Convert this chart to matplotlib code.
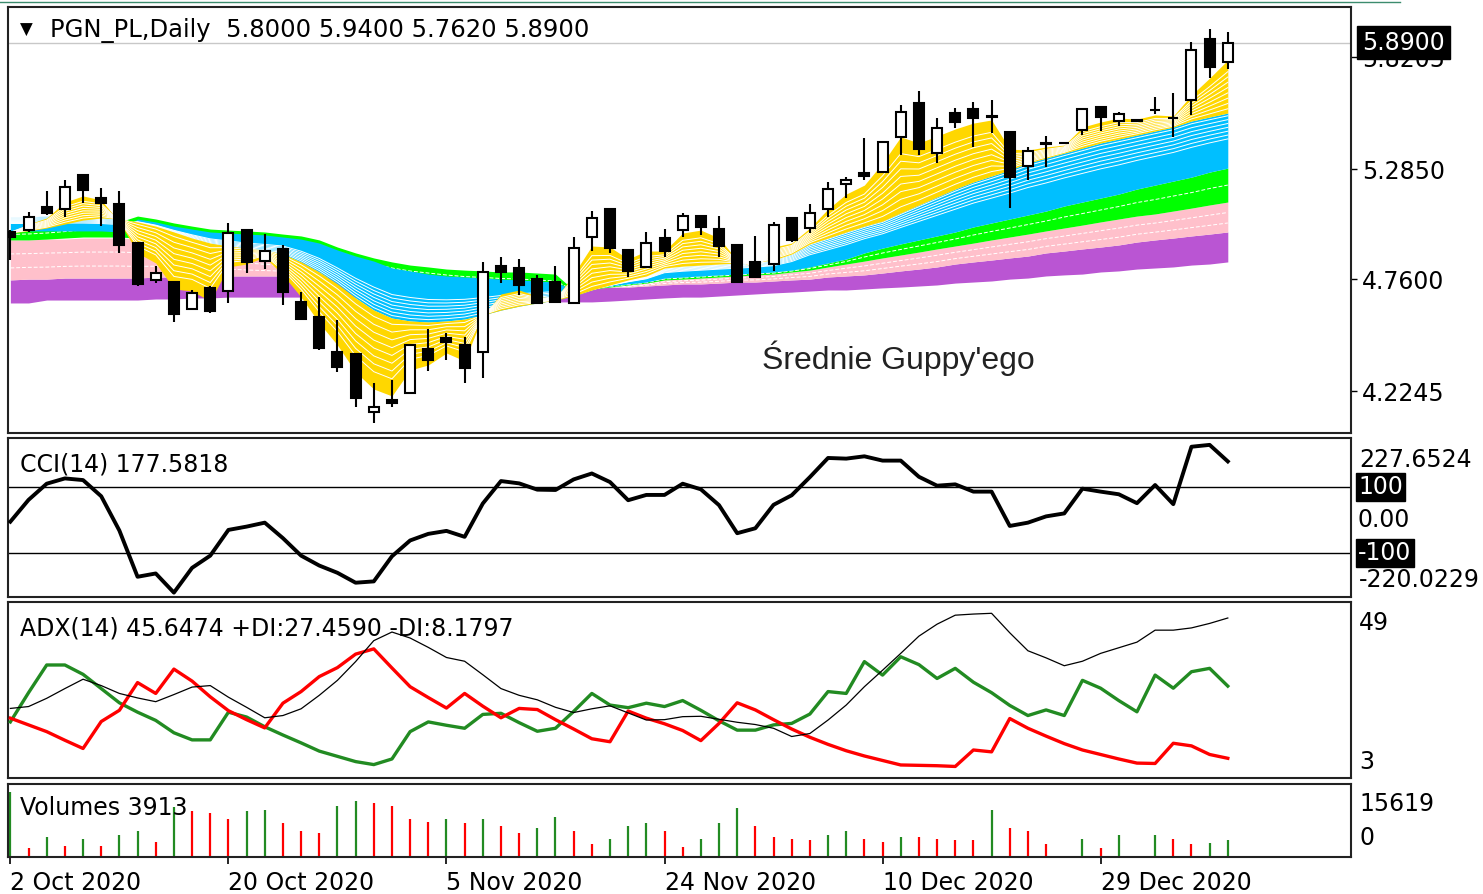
import numpy as np
import matplotlib.pyplot as plt
from matplotlib.lines import Line2D

plt.rcParams['font.family'] = 'DejaVu Sans'
plt.rcParams['font.size'] = 17

# daily candles PGN_PL, 2 Oct 2020 - 6 Jan 2021
opens = [4.986, 4.995, 5.105, 5.094, 5.258, 5.146, 5.119, 4.935, 4.757, 4.749,
         4.617, 4.717, 4.706, 4.995, 4.847, 4.903, 4.653, 4.579, 4.414, 4.403,
         4.128, 4.184, 4.216, 4.426, 4.478, 4.446, 4.414, 4.823, 4.812, 4.760,
         4.749, 4.648, 4.961, 5.094, 4.900, 4.820, 4.956, 4.995, 5.062, 4.999,
         4.924, 4.844, 4.833, 5.051, 5.004, 5.094, 5.215, 5.266, 5.274, 5.441,
         5.603, 5.364, 5.553, 5.572, 5.540, 5.465, 5.301, 5.410, 5.409, 5.473,
         5.581, 5.517, 5.517, 5.570, 5.530, 5.616, 5.906, 5.800]
highs = [4.995, 5.083, 5.183, 5.234, 5.260, 5.195, 5.183, 4.940, 4.823, 4.752,
         4.709, 4.728, 5.030, 4.998, 4.976, 4.924, 4.701, 4.677, 4.566, 4.405,
         4.263, 4.279, 4.450, 4.521, 4.502, 4.486, 4.844, 4.868, 4.856, 4.781,
         4.825, 4.963, 5.088, 5.094, 4.900, 4.987, 4.999, 5.078, 5.062, 5.062,
         4.930, 4.967, 5.035, 5.051, 5.119, 5.226, 5.247, 5.433, 5.420, 5.592,
         5.661, 5.529, 5.577, 5.608, 5.616, 5.465, 5.393, 5.444, 5.409, 5.572,
         5.585, 5.560, 5.517, 5.629, 5.651, 5.891, 5.954, 5.940]
lows = [4.852, 4.986, 5.067, 5.059, 5.122, 5.014, 4.884, 4.728, 4.741, 4.557,
        4.613, 4.598, 4.645, 4.789, 4.808, 4.637, 4.565, 4.422, 4.319, 4.149,
        4.072, 4.149, 4.210, 4.324, 4.375, 4.266, 4.287, 4.741, 4.685, 4.645,
        4.645, 4.648, 4.897, 4.884, 4.772, 4.820, 4.865, 4.963, 4.972, 4.865,
        4.741, 4.770, 4.801, 4.940, 4.983, 5.059, 5.147, 5.234, 5.270, 5.354,
        5.354, 5.317, 5.481, 5.393, 5.457, 5.099, 5.234, 5.298, 5.409, 5.449,
        5.470, 5.492, 5.517, 5.549, 5.441, 5.544, 5.720, 5.762]
closes = [4.962, 5.059, 5.076, 5.202, 5.186, 5.122, 4.924, 4.738, 4.792, 4.594,
          4.693, 4.610, 4.980, 4.844, 4.897, 4.699, 4.569, 4.430, 4.343, 4.192,
          4.152, 4.168, 4.446, 4.375, 4.462, 4.335, 4.796, 4.797, 4.733, 4.645,
          4.653, 4.908, 5.051, 4.908, 4.801, 4.932, 4.897, 5.062, 5.008, 4.919,
          4.749, 4.772, 5.019, 4.948, 5.075, 5.190, 5.234, 5.253, 5.417, 5.561,
          5.381, 5.481, 5.513, 5.529, 5.536, 5.247, 5.374, 5.406, 5.409, 5.572,
          5.534, 5.549, 5.517, 5.568, 5.529, 5.855, 5.775, 5.890]

# Guppy moving average ribbons (edges of each coloured band)
gold_fast = [4.986, 5.024, 5.053, 5.129, 5.158, 5.139, 5.034, 4.886, 4.838, 4.714,
             4.704, 4.656, 4.819, 4.833, 4.866, 4.781, 4.675, 4.551, 4.446, 4.317,
             4.236, 4.203, 4.327, 4.351, 4.408, 4.370, 4.585, 4.690, 4.709, 4.680,
             4.666, 4.785, 4.919, 4.914, 4.857, 4.895, 4.895, 4.981, 4.995, 4.957,
             4.852, 4.814, 4.914, 4.933, 5.005, 5.096, 5.167, 5.210, 5.315, 5.440,
             5.411, 5.444, 5.478, 5.506, 5.521, 5.382, 5.377, 5.392, 5.401, 5.487,
             5.511, 5.530, 5.525, 5.545, 5.540, 5.640, 5.721, 5.807]
gold_slow = [4.981, 4.991, 5.005, 5.024, 5.043, 5.053, 5.048,
             5.034, 5.014, 4.986, 4.957, 4.933, 4.919, 4.909, 4.900,
             4.881, 4.843, 4.795, 4.738, 4.671, 4.613, 4.575, 4.561, 4.556, 4.561,
             4.570, 4.590, 4.613, 4.632, 4.647, 4.661,
             4.680, 4.709, 4.733, 4.757, 4.776, 4.814, 4.823, 4.828, 4.833, 4.838,
             4.843, 4.852, 4.881, 4.929, 4.957, 4.986, 5.014,
             5.038, 5.077, 5.115, 5.153, 5.191, 5.225, 5.253, 5.282, 5.315, 5.339,
             5.363, 5.387, 5.411, 5.430, 5.449, 5.468, 5.487, 5.516, 5.535, 5.554]
blue_fast = [5.058, 5.058, 5.062, 5.062, 5.062, 5.058, 5.053,
             5.024, 5.005, 4.976, 4.948, 4.924, 4.909, 4.895, 4.886,
             4.881, 4.843, 4.795, 4.738, 4.671, 4.613, 4.575, 4.561, 4.556, 4.561,
             4.570, 4.590, 4.613, 4.632, 4.647, 4.661] + gold_slow[31:]
blue_slow = [4.991, 4.991, 4.991, 4.991, 4.991, 4.991, 4.986,
             5.048, 5.034, 5.014, 5.000, 4.986, 4.981, 4.976, 4.972, 4.962, 4.952,
             4.933, 4.900, 4.871, 4.847, 4.814, 4.800, 4.785, 4.776, 4.771, 4.766,
             4.761, 4.757, 4.752, 4.747,
             4.709, 4.719, 4.728, 4.738, 4.747, 4.766, 4.771, 4.776, 4.781, 4.785,
             4.790, 4.795, 4.804, 4.819, 4.838, 4.857, 4.886,
             4.909, 4.929, 4.948, 4.967, 4.986, 5.010, 5.029, 5.048, 5.067, 5.086,
             5.110, 5.129, 5.148, 5.167, 5.191, 5.210, 5.229, 5.248, 5.272, 5.291]
green_fast = [5.000, 5.005, 5.010, 5.019, 5.029, 5.034, 5.034,
              5.062, 5.048, 5.029, 5.014, 5.000, 4.995, 4.991, 4.986, 4.976, 4.967,
              4.948, 4.914, 4.886, 4.862, 4.843, 4.828, 4.819, 4.809, 4.804, 4.800,
              4.795, 4.795, 4.790, 4.785] + blue_slow[31:]
green_slow = [4.948, 4.948, 4.952, 4.957, 4.962, 4.962, 4.962,
              4.957, 4.948, 4.938, 4.929, 4.919, 4.914, 4.909, 4.905, 4.895, 4.886,
              4.871, 4.852, 4.828, 4.804, 4.785, 4.771, 4.761, 4.752, 4.742, 4.738,
              4.733, 4.728, 4.723, 4.719,
              4.704, 4.714, 4.723, 4.733, 4.742, 4.757, 4.761, 4.766, 4.771, 4.776,
              4.781, 4.785, 4.795, 4.804, 4.819, 4.833, 4.847,
              4.862, 4.876, 4.890, 4.905, 4.919, 4.933, 4.948, 4.962, 4.976, 4.991,
              5.005, 5.019, 5.034, 5.048, 5.062, 5.072, 5.086, 5.100, 5.115, 5.129]
pink_fast = [4.948, 4.948, 4.952, 4.952, 4.957, 4.957, 4.957,
             4.952, 4.943, 4.929, 4.914, 4.900, 4.886, 4.871, 4.862, 4.852, 4.843,
             4.833, 4.823, 4.814, 4.804, 4.795, 4.790, 4.785, 4.781, 4.776, 4.771,
             4.766, 4.761, 4.757, 4.752] + green_slow[31:]
pink_slow = [4.757, 4.761, 4.761, 4.766, 4.766, 4.766, 4.766,
             4.766, 4.771, 4.771, 4.771, 4.776, 4.776, 4.776, 4.776, 4.776, 4.771,
             4.771, 4.766, 4.766, 4.761, 4.757, 4.752, 4.747, 4.742, 4.738, 4.733,
             4.733, 4.728, 4.728, 4.723,
             4.719, 4.719, 4.723, 4.723, 4.728, 4.733, 4.738, 4.738, 4.742, 4.747,
             4.747, 4.752, 4.757, 4.761, 4.771, 4.776, 4.781,
             4.790, 4.800, 4.809, 4.819, 4.833, 4.843, 4.852, 4.862, 4.871, 4.886,
             4.895, 4.905, 4.914, 4.924, 4.938, 4.948, 4.957, 4.967, 4.976, 4.986]
purple_fast = pink_slow
purple_slow = [4.647, 4.647, 4.661, 4.661, 4.661, 4.661, 4.661,
               4.661, 4.666, 4.666, 4.671, 4.671, 4.675, 4.675, 4.675, 4.675, 4.675,
               4.675, 4.675, 4.675, 4.671, 4.671, 4.666, 4.666, 4.666, 4.661, 4.661,
               4.656, 4.656, 4.656, 4.652,
               4.652, 4.652, 4.656, 4.661, 4.666, 4.671, 4.675, 4.675, 4.680, 4.685,
               4.690, 4.695, 4.699, 4.704, 4.709, 4.709, 4.714,
               4.719, 4.723, 4.728, 4.733, 4.742, 4.747, 4.752, 4.761, 4.766, 4.776,
               4.781, 4.785, 4.795, 4.800, 4.809, 4.814, 4.819, 4.828, 4.833, 4.843]

cci = [-5, 61, 110, 126, 121, 72, -32, -172, -162, -220.0229,
       -145, -108, -30, -20, -8, -55, -108, -138, -160, -190,
       -186, -110, -62, -42, -33, -51, 50, 118, 111, 92,
       91, 123, 141, 115, 60, 76, 76, 110, 93, 45,
       -40, -25, 46, 75, 130, 188, 186, 193, 180, 180,
       131, 104, 108, 86, 86, -18, -8, 11, 20, 95,
       86, 78, 51, 106, 48, 222, 227.6524, 177.5818]

adx = [21.5, 22.0, 24.2, 26.8, 29.3, 27.6, 25.5, 24.3, 23.3, 25.2,
       27.2, 27.6, 24.5, 21.8, 19.0, 19.6, 21.4, 25.0, 29.0, 34.0,
       39.6, 41.9, 40.3, 37.8, 35.1, 34.1, 30.5, 26.8, 25.0, 23.8,
       21.8, 20.4, 21.4, 22.2, 20.3, 18.4, 18.5, 19.3, 19.4, 18.6,
       17.8, 17.2, 16.2, 14.0, 14.8, 18.4, 22.4, 27.3, 31.7, 36.2,
       40.8, 44.0, 46.4, 46.7, 46.9, 41.7, 36.9, 35.0, 32.9, 34.1,
       36.2, 37.7, 39.2, 42.4, 42.4, 43.0, 44.2, 45.6474]
plus_di = [17.9, 25.7, 33.1, 33.1, 30.6, 26.8, 23.0, 20.5, 18.3, 15.0,
           13.1, 13.1, 20.5, 19.2, 16.6, 14.4, 12.3, 10.1, 8.7, 7.3,
           6.5, 8.0, 15.3, 17.9, 17.0, 16.2, 19.9, 20.2, 17.7, 15.4,
           16.2, 20.7, 25.5, 22.4, 21.7, 22.9, 22.0, 23.6, 21.0, 18.2,
           15.7, 15.7, 17.1, 17.5, 20.0, 26.0, 25.5, 34.0, 30.4, 35.3,
           33.2, 29.5, 32.2, 28.5, 25.7, 22.3, 19.6, 21.1, 19.6, 29.0,
           26.9, 23.6, 20.6, 30.4, 26.9, 31.3, 32.2, 27.4590]
minus_di = [18.9, 17.1, 15.3, 13.0, 10.8, 18.0, 21.0, 28.4, 25.5, 32.0,
            28.8, 24.6, 20.9, 18.5, 16.3, 22.9, 26.0, 30.0, 32.4, 36.0,
            37.4, 32.3, 27.3, 24.4, 21.6, 25.5, 22.1, 19.0, 21.5, 21.2,
            18.5, 16.0, 13.4, 12.6, 20.8, 18.9, 17.4, 15.6, 12.9, 17.5,
            23.0, 21.1, 18.5, 16.0, 13.8, 11.9, 10.2, 8.8, 7.6, 6.4,
            6.3, 6.2, 6.0, 10.4, 9.9, 18.8, 16.2, 14.1, 12.1, 10.4,
            9.2, 8.0, 6.9, 6.8, 12.2, 11.5, 9.2, 8.1797]

volumes = [15619, 1870, 4540, 2430, 4050, 2430, 5100, 6150, 3470, 12000,
           10900, 10520, 8910, 11000, 11100, 7940, 6150, 5660, 12220, 13290,
           12800, 12220, 8910, 8330, 8910, 7940, 8910, 7290, 5660, 6730,
           9550, 6150, 2910, 4050, 7290, 7940, 6150, 2270, 4050, 7940,
           11590, 7290, 4540, 4050, 3900, 5100, 6150, 4050, 3470, 4600,
           4500, 4050, 4000, 3950, 11170, 6730, 6150, 2910, 0, 4050,
           1870, 5100, 0, 5100, 4050, 2910, 3100, 3913]

date_labels = ['2 Oct 2020', '20 Oct 2020', '5 Nov 2020', '24 Nov 2020',
               '10 Dec 2020', '29 Dec 2020']
date_bars = [0, 12, 24, 36, 48, 60]
price_ticks = [5.8205, 5.2850, 4.7600, 4.2245]
adx_scale = ['49', '3']

W, H = 1483, 894
fig = plt.figure(figsize=(W / 100, H / 100), dpi=100)


def pane(top, bottom):
    ax = fig.add_axes([8 / W, 1 - bottom / H, 1343 / W, (bottom - top) / H])
    for s in ax.spines.values():
        s.set_linewidth(1.5)
        s.set_color('#222222')
    ax.set_xlim(-0.13, 73.78)
    ax.set_xticks([])
    ax.set_yticks([])
    return ax


ax1 = pane(7, 433)
ax2 = pane(438, 597)
ax3 = pane(602, 778)
ax4 = pane(784, 857)

x = np.arange(len(closes))
o, h, l, c = map(np.array, (opens, highs, lows, closes))

# --- price pane ---
ax1.set_ylim(4.0261, 6.0603)
ax1.axhline(closes[-1], color='#C8C8C8', lw=1, zorder=1)

bands = [(purple_fast, purple_slow, '#BA55D3', []),
         (pink_fast, pink_slow, '#FFC0CB', [0.35, 0.7]),
         (green_fast, green_slow, '#00FF00', [0.5]),
         (blue_fast, blue_slow, '#00BFFF', [0.05, 0.12, 0.19, 0.26, 0.33, 0.40, 0.47]),
         (gold_fast, gold_slow, '#FFD700', [0.22, 0.32, 0.42, 0.52, 0.62, 0.72, 0.82, 0.92])]
for z, (a, b, col, fracs) in enumerate(bands):
    a, b = np.array(a), np.array(b)
    ax1.fill_between(x, a, b, color=col, lw=0, zorder=2 + z * 0.1)
    for f in fracs:
        ax1.plot(x, a + (b - a) * f, color='white', lw=0.7,
                 dashes=(4, 2) if len(fracs) < 3 else (None, None),
                 zorder=2.05 + z * 0.1)

ax1.vlines(x, l, h, color='black', lw=1.5, zorder=5)
up = c >= o
body = np.maximum(np.abs(c - o), 0.002)
ax1.bar(x, body, width=0.55, bottom=np.minimum(o, c),
        color=np.where(up, 'white', 'black'), edgecolor='black', lw=1.5, zorder=6)

ax1.yaxis.tick_right()
ax1.set_yticks(price_ticks)
ax1.set_yticklabels([f'{v:.4f}' for v in price_ticks])
ax1.tick_params(axis='y', length=4, width=1, pad=4, labelsize=17)
ax1.annotate(f'{closes[-1]:.4f}', xy=(1, closes[-1]), xycoords=('axes fraction', 'data'),
             xytext=(8, 0), textcoords='offset points', ha='left', va='center',
             color='white', fontsize=17, annotation_clip=False, zorder=20,
             bbox=dict(boxstyle='square,pad=0.2', fc='black', ec='black'))
ax1.text(0.009, 0.946, '\u25bc', transform=ax1.transAxes, fontsize=12, va='center')
ax1.text(0.0313, 0.946,
         f'PGN_PL,Daily  {opens[-1]:.4f} {highs[-1]:.4f} {lows[-1]:.4f} {closes[-1]:.4f}',
         transform=ax1.transAxes, fontsize=17.5, va='center')
ax1.text(0.5614, 0.176, "Średnie Guppy'ego", transform=ax1.transAxes,
         fontsize=23, va='center', color='#222222', family='Liberation Sans')

# --- CCI pane ---
ax2.set_ylim(-233.3, 248.5)
ax2.axhline(100, color='black', lw=1)
ax2.axhline(-100, color='black', lw=1)
ax2.plot(x, cci, color='black', lw=2.8, zorder=3)
ax2.text(0.009, 0.836, f'CCI(14) {cci[-1]:.4f}', transform=ax2.transAxes, va='center')
ax2.text(1.006, 0.862, f'{max(cci):.4f}', transform=ax2.transAxes, va='center', clip_on=False)
ax2.text(1.006, 0.107, f'{min(cci):.4f}', transform=ax2.transAxes, va='center', clip_on=False)
for lvl, txt, boxed in [(100, '100', True), (0, '0.00', False), (-100, '-100', True)]:
    ax2.annotate(txt, xy=(1, lvl), xycoords=('axes fraction', 'data'),
                 xytext=(5, 0), textcoords='offset points', ha='left', va='center',
                 color='white' if boxed else 'black', annotation_clip=False,
                 bbox=dict(boxstyle='square,pad=0.1', fc='black', ec='black') if boxed else None)

# --- ADX pane ---
ax3.set_ylim(2.92, 49.92)
ax3.plot(x, plus_di, color='#228B22', lw=2.4, zorder=3)
ax3.plot(x, minus_di, color='#FF0000', lw=2.4, zorder=3)
ax3.plot(x, adx, color='black', lw=0.9, zorder=4)
ax3.text(0.009, 0.852, f'ADX(14) {adx[-1]:.4f} +DI:{plus_di[-1]:.4f} -DI:{minus_di[-1]:.4f}',
         transform=ax3.transAxes, va='center', zorder=6)
ax3.text(1.006, 0.881, adx_scale[0], transform=ax3.transAxes, va='center', clip_on=False)
ax3.text(1.006, 0.091, adx_scale[1], transform=ax3.transAxes, va='center', clip_on=False)

# --- Volumes pane ---
vol = np.array(volumes)
rising = np.r_[True, vol[1:] > vol[:-1]]
ax4.set_ylim(-243, 17490)
ax4.vlines(x, 0, vol, colors=np.where(rising, '#228B22', '#FF0000'), lw=1.6)
ax4.text(0.009, 0.671, f'Volumes {volumes[-1]}', transform=ax4.transAxes, va='center', zorder=6)
ax4.text(1.006, 0.726, f'{max(volumes)}', transform=ax4.transAxes, va='center', clip_on=False)
ax4.text(1.006, 0.26, '0', transform=ax4.transAxes, va='center', clip_on=False)
ax4.set_xticks(date_bars)
ax4.set_xticklabels(date_labels, ha='left')
ax4.tick_params(axis='x', length=5, width=1.2, pad=5, labelsize=17)
for lbl in ax4.get_xticklabels():
    lbl.set_horizontalalignment('left')

fig.add_artist(Line2D([0, 1400 / W], [1 - 2 / H, 1 - 2 / H], color='#3C8C6E', lw=1))

fig.savefig('out.png', dpi=100)
